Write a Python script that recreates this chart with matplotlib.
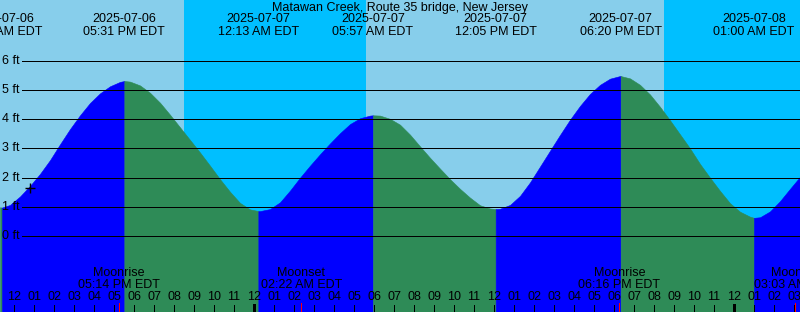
import numpy as np
import matplotlib
matplotlib.use("Agg")
from matplotlib import pyplot as plt
from matplotlib.transforms import blended_transform_factory

TITLE = "Matawan Creek, Route 35 bridge, New Jersey"

# times are hours after 2025-07-06 12:00 PM EDT, heights in feet
curve_start = -0.7
curve_step = 0.5
curve_heights = [
    0.99, 1.07, 1.36, 1.72, 2.13, 2.60, 3.14, 3.66, 4.13, 4.55,
    4.88, 5.12, 5.27, 5.28, 5.15, 4.90, 4.56, 4.15, 3.72, 3.29,
    2.86, 2.41, 1.95, 1.52, 1.14, 0.92, 0.86, 0.93, 1.16, 1.56,
    2.00, 2.41, 2.80, 3.17, 3.52, 3.83, 4.03, 4.12, 4.12, 4.01,
    3.81, 3.47, 3.07, 2.68, 2.31, 1.95, 1.62, 1.32, 1.06, 0.95,
    0.94, 1.07, 1.38, 1.84, 2.38, 2.92, 3.46, 3.98, 4.45, 4.86,
    5.17, 5.38, 5.47, 5.39, 5.17, 4.84, 4.42, 3.96, 3.48, 3.00,
    2.47, 2.00, 1.55, 1.13, 0.84, 0.67, 0.65, 0.85, 1.20, 1.62,
    2.03,
]

event_times = [-0.6, 5.517, 12.217, 17.95, 24.083, 30.333, 37.0]
event_heights = [0.98, 5.30, 0.86, 4.13, 0.93, 5.47, 0.63]
event_kinds = ["L", "H", "L", "H", "L", "H", "L"]
event_dates = ["2025-07-06", "2025-07-06", "2025-07-07", "2025-07-07",
               "2025-07-07", "2025-07-07", "2025-07-08"]
event_clock = ["11:24 AM EDT", "05:31 PM EDT", "12:13 AM EDT", "05:57 AM EDT",
               "12:05 PM EDT", "06:20 PM EDT", "01:00 AM EDT"]

moon_times = [5.233, 14.367, 30.267, 39.05]
moon_names = ["Moonrise", "Moonset", "Moonrise", "Moonset"]
moon_clock = ["05:14 PM EDT", "02:22 AM EDT", "06:16 PM EDT", "03:03 AM EDT"]

sunset_times = [8.5, 32.5]
sunrise_times = [17.6, 41.6]

now_time = 0.8
now_height = 1.64

height_levels = [0, 1, 2, 3, 4, 5, 6]
hour_ticks = list(range(0, 40))

DAY = "#87ceeb"
NIGHT = "#00bfff"
FLOOD = "#0000ff"
EBB = "#2e8b57"
FS = 9
PX = 0.72  # one pixel at 100 dpi

plt.rcParams["font.family"] = ["Liberation Sans", "DejaVu Sans"]

fig = plt.figure(figsize=(8, 3.12), dpi=100)
ax = fig.add_axes([0, 0, 1, 1])
ax.set_xlim(-0.7, 39.3)
ax.set_ylim(-2.584, 8.065)
ax.axis("off")
fig.patch.set_facecolor(DAY)


def ypix(p):
    return 1 - p / 312.0


xdata_yfig = blended_transform_factory(ax.transData, fig.transFigure)
xfig_ydata = blended_transform_factory(fig.transFigure, ax.transData)

for s, r in zip(sunset_times, sunrise_times):
    ax.axvspan(s, r, color=NIGHT, lw=0, zorder=0)

# tide curve, split at highs and lows (blue rising, green falling)
curve_t = curve_start + curve_step * np.arange(len(curve_heights))
t_all = np.concatenate([curve_t, event_times])
h_all = np.concatenate([curve_heights, event_heights])
order = np.argsort(t_all)
t_all, h_all = t_all[order], h_all[order]

bounds = [-np.inf] + event_times + [np.inf]
colors = [FLOOD if k == "H" else EBB for k in event_kinds]
colors.append(FLOOD if event_kinds[-1] == "L" else EBB)
for i, c in enumerate(colors):
    m = (t_all >= bounds[i]) & (t_all <= bounds[i + 1])
    ax.fill_between(t_all[m], -3, h_all[m], facecolor=c, edgecolor=c,
                    lw=0.4, zorder=1)

ax.hlines(height_levels, 0.4, 39.3, colors="black", lw=PX, zorder=2,
          antialiased=False)
for lv in height_levels:
    ax.text(2.5 / 800, lv, f"{lv} ft", transform=xfig_ydata, fontsize=FS,
            ha="left", va="center", zorder=3)

ax.plot([now_time], [now_height], marker="+", color="black", ms=7, mew=1.0,
        zorder=4)

ax.text(0.5, ypix(7.5), TITLE, transform=fig.transFigure, fontsize=FS,
        ha="center", va="center", zorder=5)
for t, d, c in zip(event_times, event_dates, event_clock):
    ax.text(t, ypix(19.5), d, transform=xdata_yfig, fontsize=FS,
            ha="center", va="center", zorder=5)
    ax.text(t, ypix(32), c, transform=xdata_yfig, fontsize=FS,
            ha="center", va="center", zorder=5)

for t, n, c in zip(moon_times, moon_names, moon_clock):
    ax.text(t, ypix(273.5), n, transform=xdata_yfig, fontsize=FS,
            ha="center", va="center", zorder=5)
    ax.text(t, ypix(285.5), c, transform=xdata_yfig, fontsize=FS,
            ha="center", va="center", zorder=5)
    ax.vlines(t, ypix(312), ypix(303), transform=xdata_yfig, colors="red",
              lw=PX, zorder=5, antialiased=False)

for h in hour_ticks:
    label = f"{(h + 11) % 12 + 1:02d}"
    ax.text(h, ypix(297.5), label, transform=xdata_yfig, fontsize=FS,
            ha="center", va="center", zorder=5)
    midnight = (h % 24) == 12
    ax.vlines(h, ypix(312), ypix(304 if midnight else 305),
              transform=xdata_yfig, colors="black",
              lw=3 * PX if midnight else PX, zorder=5, antialiased=False)

fig.savefig("out.png", dpi=100, facecolor=DAY)
